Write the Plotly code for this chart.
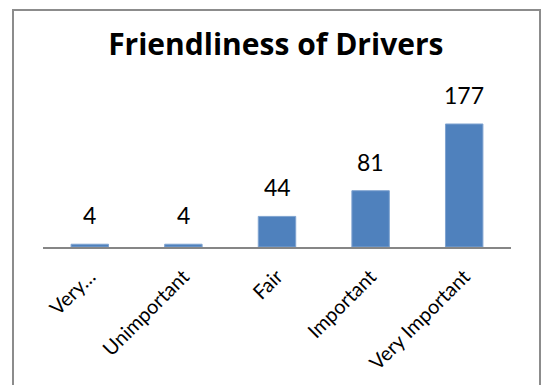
import plotly.graph_objects as go

# Survey ratings for driver friendliness
categories = ["Very…", "Unimportant", "Fair", "Important", "Very Important"]
counts = [4, 4, 44, 81, 177]

W, H = 544, 385
ML, MR, MT, MB = 43, 33, 108, 138
plot_w = W - ML - MR
plot_h = H - MT - MB

bar_color = "#4F81BD"
font_family = "Lato, 'Open Sans', sans-serif"
title_family = "'Open Sans', Lato, sans-serif"

fig = go.Figure(
    go.Bar(
        x=categories,
        y=counts,
        width=0.4,
        marker=dict(color=bar_color, line=dict(color="#7FA3D0", width=1)),
        hoverinfo="x+y",
    )
)

# value labels above each bar
for cat, val in zip(categories, counts):
    fig.add_annotation(
        x=cat, y=val, text=str(val), showarrow=False,
        yanchor="bottom", yshift=13,
        font=dict(family=font_family, size=23, color="#000000"),
    )


def px_to_paper_x(px):
    return (px - ML) / plot_w


def px_to_paper_y(py):
    return (H - MB - py) / plot_h


# chart border
fig.add_shape(
    type="rect", xref="paper", yref="paper",
    x0=px_to_paper_x(13), x1=px_to_paper_x(540),
    y0=px_to_paper_y(420), y1=px_to_paper_y(10),
    line=dict(color="#8C8C8C", width=2), fillcolor="rgba(0,0,0,0)",
    layer="below",
)

fig.update_layout(
    width=W, height=H,
    margin=dict(l=ML, r=MR, t=MT, b=MB),
    paper_bgcolor="white", plot_bgcolor="white",
    title=dict(
        text="<b>Friendliness of Drivers</b>",
        x=0.507, xanchor="center", xref="container",
        y=1 - 44 / H, yanchor="middle", yref="container",
        font=dict(family=title_family, size=30, color="#000000"),
    ),
    showlegend=False,
    bargap=0.6,
    xaxis=dict(
        range=[-0.5, 4.5],
        showline=True, linecolor="#868686", linewidth=2,
        ticks="", tickangle=-45, ticklabelstandoff=8,
        tickfont=dict(family=font_family, size=20, color="#000000"),
        showgrid=False, zeroline=False, fixedrange=True,
    ),
    yaxis=dict(
        range=[0, 200], visible=False, showgrid=False, zeroline=False,
        fixedrange=True,
    ),
)

fig.write_html("out.html")
